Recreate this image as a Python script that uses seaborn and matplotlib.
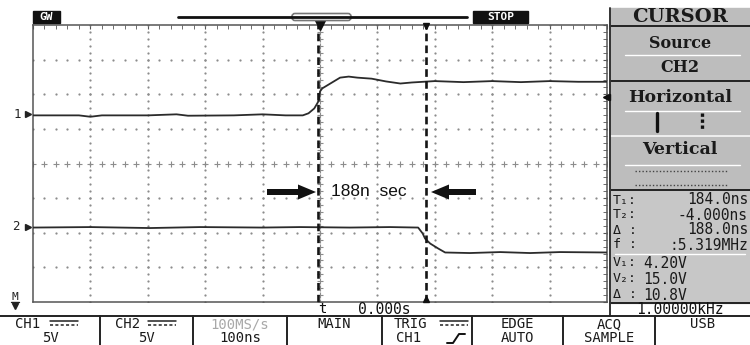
import matplotlib
matplotlib.use("Agg")
import matplotlib.pyplot as plt
import seaborn as sns
import pandas as pd
import numpy as np
from matplotlib.patches import Rectangle, FancyBboxPatch, FancyArrow

# screen settings: 100 ns/div, 5 V/div, trigger at t = 0 (screen centre)
ch1_t = [-500, -420, -400, -380, -300, -250, -230, -150, -100, -60, -30,
         -20, -10, -5, -2, 0, 4, 15, 35, 50, 65, 90, 115, 140, 160, 200,
         250, 300, 350, 400, 450, 500]
ch1_v = [-0.15, -0.15, -0.35, -0.15, -0.15, 0.0, -0.2, -0.15, 0.0, -0.15, -0.15,
         0.15, 0.85, 1.55, 2.0, 3.3, 3.75, 4.3, 5.3, 5.45, 5.3, 5.15, 4.75, 4.45, 4.6, 4.8,
         4.65, 4.8, 4.65, 4.8, 4.7, 4.7]
ch2_t = [-500, -400, -296, -209, -101, -35, 52, 122, 171, 179, 183, 192, 206, 218,
         261, 314, 366, 418, 500]
ch2_v = [0.0, 0.07, -0.07, 0.07, 0.0, 0.07, 0.0, 0.07, 0.0, -0.87, -1.59, -2.31, -3.03, -3.6,
         -3.68, -3.54, -3.68, -3.54, -3.6]
ch1_pos = 7.1      # ground marker of channel 1 (screen volts)
ch2_pos = -9.25    # ground marker of channel 2
trig_level = 2.45  # relative to ch1 ground
cursor_t = [-4.0, 184.0]   # T2, T1 (ns)

menu_titles = ["CURSOR", "Source", "CH2", "Horizontal", "Vertical"]
readout_labels = ["T\u2081:", "T\u2082:", "\u0394 :", "f :", "V\u2081:", "V\u2082:", "\u0394 :"]
readout_values = ["184.0ns", "-4.000ns", "188.0ns", ":5.319MHz", "4.20V", "15.0V", "10.8V"]
bottom_top = ["CH1", "CH2", "100MS/s", "MAIN", "TRIG", "EDGE", "ACQ", "USB"]
bottom_bot = ["5V", "5V", "100ns", "", "CH1", "AUTO", "SAMPLE", ""]
annot_text = "188n  sec"
time_text = "0.000s"
freq_text = "1.00000kHz"

sns.set_style("white")
MONO = ["DejaVu Sans Mono", "DejaVu Sans"]
SERIF = ["DejaVu Serif", "DejaVu Sans"]

fig = plt.figure(figsize=(7.5, 3.45), dpi=100)
fig.patch.set_facecolor("white")

# ---------- scope screen ----------
ax = fig.add_axes([33 / 750, 43 / 345, 574 / 750, 277 / 345])
ax.set_xlim(-500, 500)
ax.set_ylim(-20, 20)
ax.set_facecolor("white")

gcol = "#8c8c8c"
for gx in range(-400, 500, 100):
    ys = np.arange(-20, 21, 1)
    mk = "+" if gx == 0 else "."
    ax.plot(np.full_like(ys, gx, dtype=float), ys, ls="none", marker=mk,
            ms=4 if gx == 0 else 1.6, mew=0.8, color=gcol, zorder=1)
for gy in range(-15, 20, 5):
    xs = np.arange(-500, 501, 20)
    mk = "+" if gy == 0 else "."
    ax.plot(xs, np.full_like(xs, gy, dtype=float), ls="none", marker=mk,
            ms=4 if gy == 0 else 1.6, mew=0.8, color=gcol, zorder=1)

df1 = pd.DataFrame({"t": ch1_t, "v": np.array(ch1_v) + ch1_pos})
df2 = pd.DataFrame({"t": ch2_t, "v": np.array(ch2_v) + ch2_pos})
sns.lineplot(data=df1, x="t", y="v", ax=ax, color="#2b2b2b", lw=1.3,
             estimator=None, sort=False, zorder=3)
sns.lineplot(data=df2, x="t", y="v", ax=ax, color="#2b2b2b", lw=1.3,
             estimator=None, sort=False, zorder=3)

for ct in cursor_t:
    ax.axvline(ct, color="#151515", lw=1.9, ls=(0, (2.9, 1.6)), zorder=4)

# markers on the frame
ax.plot([0], [20], marker="v", ms=7, color="#111", clip_on=False, zorder=5)
ax.plot([cursor_t[1]], [19.8], marker="v", ms=5, color="#111", clip_on=False, zorder=5)
ax.plot([cursor_t[1]], [-19.6], marker="^", ms=5, color="#111", clip_on=False, zorder=5)
ax.plot([500], [ch1_pos + trig_level], marker="<", ms=6, color="#111",
        clip_on=False, zorder=5)

ax.set_xticks(np.arange(-500, 501, 100))
ax.set_xticks(np.arange(-500, 501, 20), minor=True)
ax.set_yticks(np.arange(-20, 21, 5))
ax.set_yticks(np.arange(-20, 21, 1), minor=True)
ax.tick_params(which="both", direction="in", length=3, color="#555",
               labelbottom=False, labelleft=False, top=True, right=True)
ax.set_xlabel("")
ax.set_ylabel("")
for s in ax.spines.values():
    s.set_color("#555")
    s.set_linewidth(1.1)

# ---------- overlay in pixel coordinates ----------
ov = fig.add_axes([0, 0, 1, 1], zorder=10)
ov.set_xlim(0, 750)
ov.set_ylim(345, 0)
ov.axis("off")
ov.patch.set_alpha(0)

# top bar
ov.add_patch(Rectangle((33, 11), 27, 12, color="#111"))
ov.text(46.5, 17.5, "GW", color="white", fontsize=8, fontweight="bold",
        ha="center", va="center", family=MONO)
ov.plot([178, 467], [17, 17], color="#111", lw=2)
ov.add_patch(FancyBboxPatch((292, 13.5), 59, 7, boxstyle="round,pad=0,rounding_size=3",
                            fc="white", ec="#777", lw=1.2))
ov.add_patch(Rectangle((473, 11), 55, 12, color="#111"))
ov.text(500.5, 17.5, "STOP", color="white", fontsize=8, fontweight="bold",
        ha="center", va="center", family=MONO)

# channel markers
ov.text(17, 114, "1", fontsize=9, ha="center", va="center", family=MONO, color="#222")
ov.plot([28], [114], marker=">", ms=4, color="#222")
ov.text(16, 227, "2", fontsize=9, ha="center", va="center", family=MONO, color="#222")
ov.plot([28], [227], marker=">", ms=4, color="#222")
ov.text(15, 297, "M", fontsize=8, ha="center", va="center", family=MONO, color="#222")
ov.plot([11, 19], [302, 302], color="#222", lw=1)
ov.plot([15], [306], marker="v", ms=4, color="#222")

# annotation
ov.add_patch(FancyArrow(267, 192, 49, 0, width=6, head_width=15, head_length=18,
                        length_includes_head=True, color="#111", lw=0))
ov.add_patch(FancyArrow(476, 192, -45, 0, width=6, head_width=15, head_length=18,
                        length_includes_head=True, color="#111", lw=0))
ov.text(331, 192, annot_text, fontsize=12.5, ha="left", va="center",
        family=["Liberation Sans", "DejaVu Sans"], color="#111")

# time / trigger position label
ov.text(322, 309, "t", fontsize=10, ha="center", va="center", family=MONO, color="#111")
ov.text(384, 309, time_text, fontsize=10.5, ha="center", va="center", family=MONO, color="#111")

# ---------- right menu ----------
menu_gray = "#bdbdbd"
read_gray = "#c7c7c7"
ov.add_patch(Rectangle((610, 8), 140, 18, color=menu_gray))
ov.add_patch(Rectangle((610, 27), 140, 53, color=menu_gray))
ov.add_patch(Rectangle((610, 82), 140, 53, color=menu_gray))
ov.add_patch(Rectangle((610, 137), 140, 52, color=menu_gray))
ov.add_patch(Rectangle((610, 191), 140, 112, color=read_gray))
for yl in [26, 81, 190, 303]:
    ov.plot([610, 750], [yl, yl], color="#222", lw=1.4)
ov.plot([610, 750], [136, 136], color="#eee", lw=1.4)
ov.plot([610, 610], [8, 316], color="#333", lw=1.4)
for yl in [55, 111, 165]:
    ov.plot([625, 740], [yl, yl], color="white", lw=1)
ov.plot([615, 745], [254, 254], color="white", lw=1)

ov.text(680, 17, menu_titles[0], fontsize=14, fontweight="bold", ha="center",
        va="center", family=SERIF, color="#1a1a1a")
ov.text(680, 43, menu_titles[1], fontsize=11.5, fontweight="bold", ha="center",
        va="center", family=SERIF, color="#1a1a1a")
ov.text(680, 68, menu_titles[2], fontsize=11.5, fontweight="bold", ha="center",
        va="center", family=SERIF, color="#1a1a1a")
ov.text(680, 97, menu_titles[3], fontsize=12.5, fontweight="bold", ha="center",
        va="center", family=SERIF, color="#1a1a1a")
ov.text(680, 149, menu_titles[4], fontsize=12.5, fontweight="bold", ha="center",
        va="center", family=SERIF, color="#1a1a1a")
ov.plot([607], [97], marker="<", ms=5, color="#111")
ov.plot([657, 657], [113, 131], color="#111", lw=2.4)
ov.plot([702, 702], [113, 131], color="#111", lw=2.4, ls=(0, (1, 0.8)))
for yl in [171, 185]:
    ov.plot([635, 727], [yl, yl], color="#444", lw=1, ls=(0, (1, 1.5)))

row_y = [200, 215, 230, 245, 263, 279, 295]
for i, (lab, val) in enumerate(zip(readout_labels, readout_values)):
    ov.text(613, row_y[i], lab, fontsize=9.5, ha="left", va="center",
            family=MONO, color="#1a1a1a")
    if i < 4:
        ov.text(748, row_y[i], val, fontsize=10.5, ha="right", va="center",
                family=MONO, color="#1a1a1a")
    else:
        ov.text(643, row_y[i], val, fontsize=10.5, ha="left", va="center",
                family=MONO, color="#1a1a1a")

ov.text(680, 309.5, freq_text, fontsize=10.5, ha="center", va="center",
        family=MONO, color="#111")

# ---------- bottom soft-key row ----------
edges = [0, 100, 193, 287, 382, 472, 563, 655, 750]
ov.plot([0, 750], [316, 316], color="#222", lw=1.4)
for xe in edges[1:-1]:
    ov.plot([xe, xe], [316, 345], color="#222", lw=1.4)
for i in range(len(bottom_top)):
    cx = (edges[i] + edges[i + 1]) / 2
    col = "#a8a8a8" if bottom_top[i] == "100MS/s" else "#1a1a1a"
    tx = cx
    if bottom_top[i] in ("CH1", "CH2", "TRIG"):
        tx = edges[i] + 28
    ov.text(tx, 324, bottom_top[i], fontsize=10, ha="center", va="center",
            family=MONO, color=col)
    bx = cx
    if bottom_bot[i] == "CH1":
        bx = edges[i] + 27
    ov.text(bx, 338.5, bottom_bot[i], fontsize=10, ha="center", va="center",
            family=MONO, color="#1a1a1a")

# DC coupling symbols
for x0 in [50, 148, 440]:
    ov.plot([x0, x0 + 28], [321, 321], color="#222", lw=1.1)
    ov.plot([x0, x0 + 28], [325, 325], color="#222", lw=1.1, ls=(0, (2, 1.5)))
# rising edge symbol
ov.plot([447, 453, 459, 465], [343, 343, 334, 334], color="#111", lw=1.4)

fig.savefig("out.png", dpi=100)
